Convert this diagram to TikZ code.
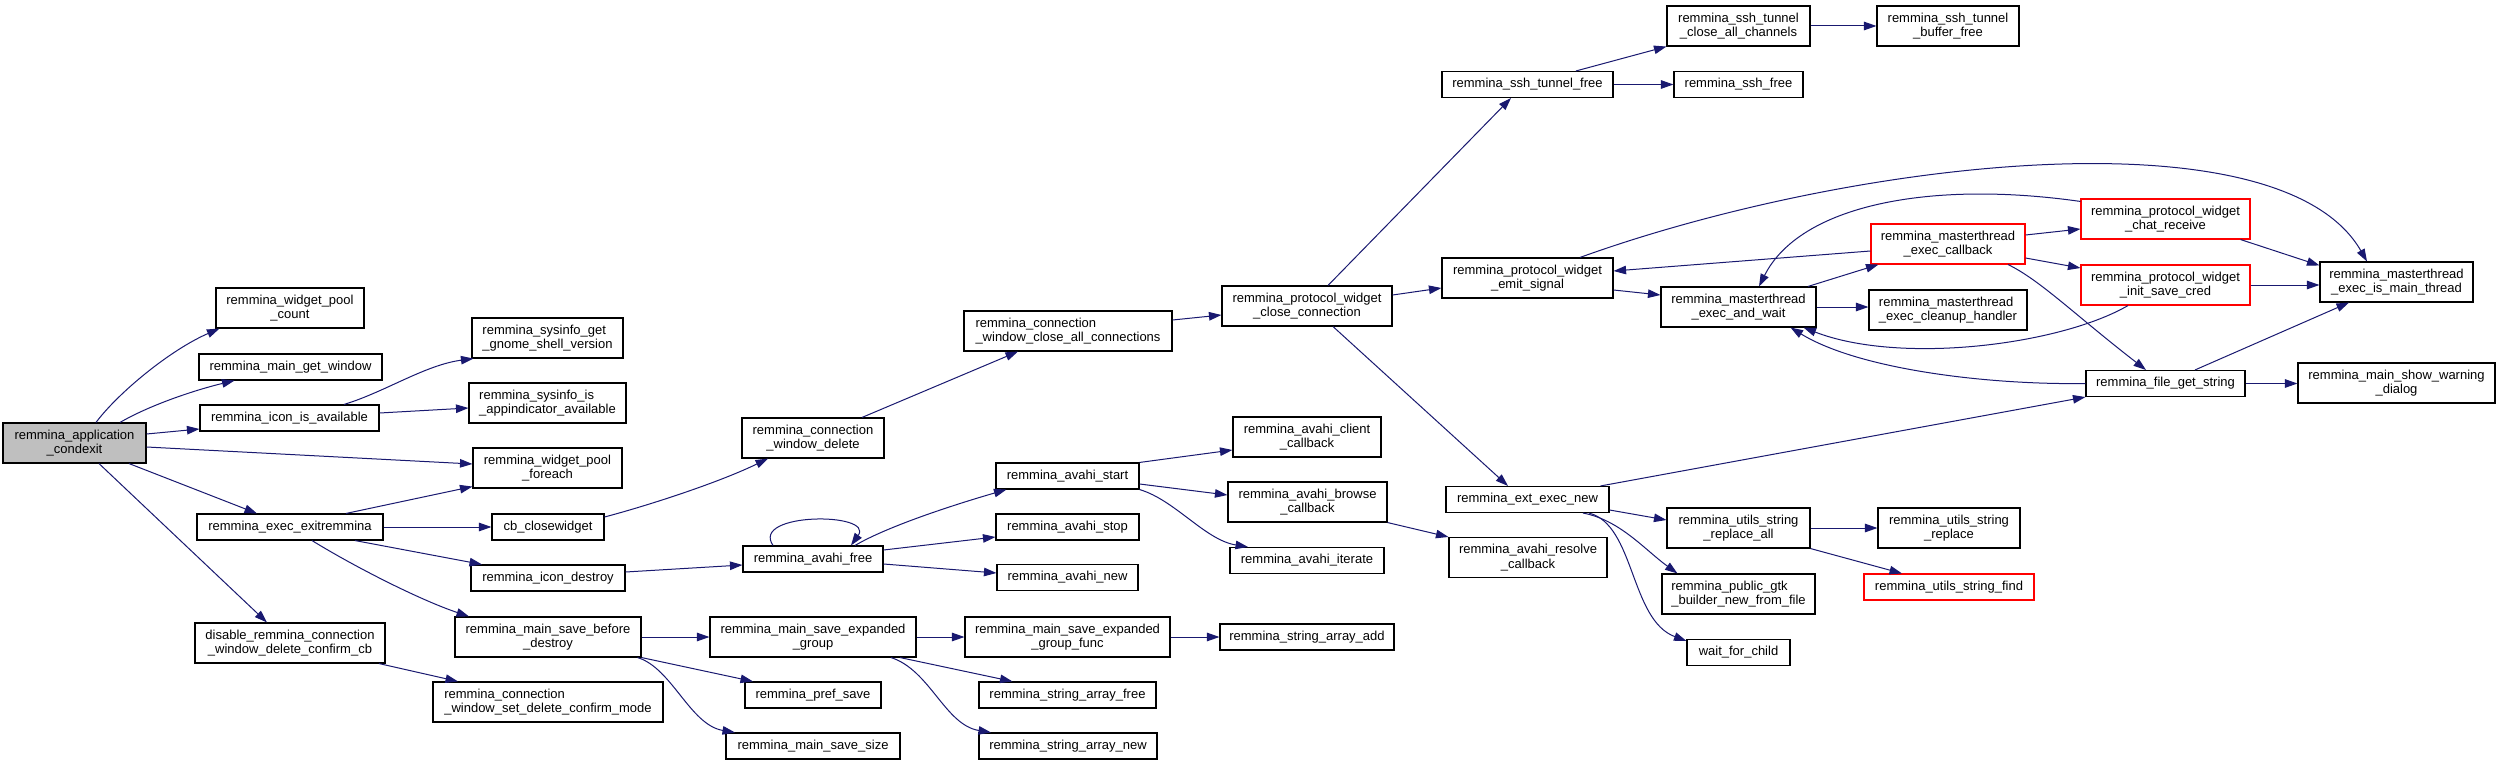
\documentclass[tikz,border=0pt]{standalone}
\usepackage{fontspec}
\setmainfont{Liberation Sans}
\usetikzlibrary{arrows.meta,calc}
\definecolor{edgecol}{HTML}{191970}
\definecolor{rootfill}{HTML}{BFBFBF}
\newcommand{\mybox}[6][box]{\node[#1,minimum width=#4pt,minimum height=#5pt] (#2) at (#3) {#6};}
\begin{document}
\begin{tikzpicture}[x=1pt,y=-1pt,
  box/.style={draw=black,fill=white,line width=1.1pt,inner sep=0pt,align=center,font=\fontsize{13}{14.5}\selectfont},
  leftbox/.style={box,align=left},
  redbox/.style={box,draw=red},
  rootbox/.style={box,fill=rootfill},
  e/.style={draw=edgecol,line width=1pt,-{Triangle[length=12.5pt,width=8.5pt]}}]
\fill[white] (0,0) rectangle (2504,765);
\useasboundingbox (0,0) rectangle (2504,765);
% column 1-2
\mybox[rootbox]{root}{74.5,443}{143}{40}{remmina\_application\\\_condexit}
\mybox{count}{290,308}{148}{40}{remmina\_widget\_pool\\\_count}
\mybox{getwin}{290.5,367}{183}{26}{remmina\_main\_get\_window}
\mybox{iconavail}{289.5,418}{179}{26}{remmina\_icon\_is\_available}
\mybox{exitrem}{290,527}{186}{26}{remmina\_exec\_exitremmina}
\mybox{disable}{290,643}{190}{40}{disable\_remmina\_connection\\\_window\_delete\_confirm\_cb}
% column 3
\mybox[leftbox]{sysget}{547.5,338}{151}{40}{remmina\_sysinfo\_get\\\_gnome\_shell\_version}
\mybox[leftbox]{sysis}{547.5,403}{157}{40}{remmina\_sysinfo\_is\\\_appindicator\_available}
\mybox{foreach}{547.5,468}{149}{40}{remmina\_widget\_pool\\\_foreach}
\mybox{cbclose}{548,527}{112}{26}{cb\_closewidget}
\mybox{icondestroy}{548,578}{154}{26}{remmina\_icon\_destroy}
\mybox{beforedestroy}{548,637}{186}{40}{remmina\_main\_save\_before\\\_destroy}
\mybox[leftbox]{setconfirm}{548,702}{230}{40}{remmina\_connection\\\_window\_set\_delete\_confirm\_mode}
% column 4
\mybox{cwdelete}{813,438}{142}{40}{remmina\_connection\\\_window\_delete}
\mybox{avahifree}{813,559}{140}{26}{remmina\_avahi\_free}
\mybox{expgroup}{813,637}{206}{40}{remmina\_main\_save\_expanded\\\_group}
\mybox{prefsave}{813,695}{136}{26}{remmina\_pref\_save}
\mybox{mainsavesize}{813,746}{174}{26}{remmina\_main\_save\_size}
% column 5
\mybox[leftbox]{closeall}{1068,331}{208}{40}{remmina\_connection\\\_window\_close\_all\_connections}
\mybox{avahistart}{1067.5,476}{143}{26}{remmina\_avahi\_start}
\mybox{avahistop}{1067.5,527}{143}{26}{remmina\_avahi\_stop}
\mybox{avahinew}{1067.5,577.5}{141}{26}{remmina\_avahi\_new}
\mybox{expfunc}{1067.5,637}{205}{40}{remmina\_main\_save\_expanded\\\_group\_func}
\mybox{strfree}{1067.5,695}{177}{26}{remmina\_string\_array\_free}
\mybox{strnew}{1068,746}{178}{26}{remmina\_string\_array\_new}
% column 6
\mybox{closeconn}{1307,306}{170}{40}{remmina\_protocol\_widget\\\_close\_connection}
\mybox{clientcb}{1307,437}{148}{40}{remmina\_avahi\_client\\\_callback}
\mybox{browsecb}{1307.5,502}{159}{40}{remmina\_avahi\_browse\\\_callback}
\mybox{iterate}{1307,560.5}{154}{26}{remmina\_avahi\_iterate}
\mybox{strarradd}{1307,637}{174}{26}{remmina\_string\_array\_add}
% column 7
\mybox{sshtunfree}{1527.5,84.5}{171}{26}{remmina\_ssh\_tunnel\_free}
\mybox{emitsig}{1527.5,278}{171}{40}{remmina\_protocol\_widget\\\_emit\_signal}
\mybox{extexec}{1527.5,499.5}{163}{26}{remmina\_ext\_exec\_new}
\mybox{resolvecb}{1528,557.5}{158}{40}{remmina\_avahi\_resolve\\\_callback}
% column 8
\mybox{closechan}{1738.5,26}{143}{40}{remmina\_ssh\_tunnel\\\_close\_all\_channels}
\mybox{sshfree}{1738.5,84.5}{129}{26}{remmina\_ssh\_free}
\mybox{execwait}{1738.5,307}{155}{40}{remmina\_masterthread\\\_exec\_and\_wait}
\mybox{replaceall}{1738.5,528}{143}{40}{remmina\_utils\_string\\\_replace\_all}
\mybox[leftbox]{gtkbuilder}{1738.5,594}{153}{40}{remmina\_public\_gtk\\\_builder\_new\_from\_file}
\mybox{waitchild}{1738.5,652.5}{103}{26}{wait\_for\_child}
% column 9
\mybox{bufferfree}{1948,26}{142}{40}{remmina\_ssh\_tunnel\\\_buffer\_free}
\mybox[redbox]{execcb}{1948,244}{154}{40}{remmina\_masterthread\\\_exec\_callback}
\mybox[leftbox]{cleanup}{1948,310}{158}{40}{remmina\_masterthread\\\_exec\_cleanup\_handler}
\mybox{strreplace}{1949,528}{142}{40}{remmina\_utils\_string\\\_replace}
\mybox[redbox]{strfind}{1949,587}{170}{26}{remmina\_utils\_string\_find}
% column 10
\mybox[redbox]{chatrecv}{2165.5,219}{169}{40}{remmina\_protocol\_widget\\\_chat\_receive}
\mybox[redbox]{initcred}{2165.5,285}{169}{40}{remmina\_protocol\_widget\\\_init\_save\_cred}
\mybox{filegetstr}{2165.5,383.5}{159}{26}{remmina\_file\_get\_string}
% column 11
\mybox{ismain}{2396.5,282}{153}{40}{remmina\_masterthread\\\_exec\_is\_main\_thread}
\mybox{warning}{2396.5,383}{197}{40}{remmina\_main\_show\_warning\\\_dialog}
% edges
\draw[e] ([xshift=21.5pt]root.north) .. controls (118,393) and (170,350) .. ([xshift=4pt]count.south west);
\draw[e] ([xshift=45.5pt]root.north) .. controls (150,405) and (195,390) .. ([xshift=-56pt]getwin.south);
\draw[e] ([yshift=9pt]root.east) -- ([yshift=-11pt]iconavail.west);
\draw[e] ([yshift=-4pt]root.east) -- ([yshift=4pt]foreach.west);
\draw[e] ([xshift=54.5pt]root.south) -- ([xshift=-33pt]exitrem.north);
\draw[e] ([xshift=24.5pt]root.south) -- ([xshift=-23pt]disable.north);
\draw[e] ([xshift=54.5pt]iconavail.north) .. controls (385,392) and (425,365) .. ([xshift=2pt]sysget.south west);
\draw[e] ([yshift=5pt]iconavail.east) -- ([yshift=-5pt]sysis.west);
\draw[e] ([xshift=56pt]exitrem.north) -- ([yshift=2pt]foreach.south west);
\draw[e] (exitrem.east) -- (cbclose.west);
\draw[e] ([xshift=65pt]exitrem.south) -- ([xshift=-66pt]icondestroy.north);
\draw[e] ([xshift=22pt]exitrem.south) .. controls (355,567) and (420,600) .. ([xshift=-79pt]beforedestroy.north);
\draw[e] ([xshift=89pt]disable.south) -- ([xshift=-90pt]setconfirm.north);
\draw[e] ([yshift=10pt]cbclose.east) .. controls (650,505) and (720,482) .. ([xshift=-45pt]cwdelete.south);
\draw[e] ([yshift=6pt]icondestroy.east) -- ([yshift=-6pt]avahifree.west);
\draw[e] (beforedestroy.east) -- (expgroup.west);
\draw[e] (beforedestroy.south east) -- ([xshift=-60pt]prefsave.north);
\draw[e] ([xshift=-4pt]beforedestroy.south east) .. controls (672,668) and (690,725) .. ([xshift=-78pt]mainsavesize.north);
\draw[e] ([xshift=49pt]cwdelete.north) -- ([xshift=-50pt]closeall.south);
\draw[e] ([xshift=-40pt]avahifree.north) .. controls (750,512) and (875,512) .. ([xshift=38pt]avahifree.north);
\draw[e] ([xshift=42pt]avahifree.north) .. controls (890,525) and (960,503) .. ([xshift=11pt]avahistart.south west);
\draw[e] ([yshift=9pt]avahifree.east) -- ([yshift=-10pt]avahistop.west);
\draw[e] ([yshift=-5pt]avahifree.east) -- ([yshift=4.5pt]avahinew.west);
\draw[e] (expgroup.east) -- (expfunc.west);
\draw[e] ([xshift=87pt]expgroup.south) -- ([xshift=-55pt]strfree.north);
\draw[e] ([xshift=78pt]expgroup.south) .. controls (930,670) and (945,725) .. ([xshift=-77pt]strnew.north);
\draw[e] ([yshift=11pt]closeall.east) -- ([yshift=-9pt]closeconn.west);
\draw[e] (avahistart.north east) -- ([yshift=-13pt]clientcb.west);
\draw[e] ([yshift=-8pt]avahistart.east) -- ([yshift=7pt]browsecb.west);
\draw[e] (avahistart.south east) .. controls (1175,500) and (1205,540) .. ([xshift=-59pt]iterate.north);
\draw[e] (expfunc.east) -- (strarradd.west);
\draw[e] ([xshift=21pt]closeconn.north) -- ([xshift=-16.5pt]sshtunfree.south);
\draw[e] ([yshift=11pt]closeconn.east) -- ([yshift=-10pt]emitsig.west);
\draw[e] ([xshift=26pt]closeconn.south) -- ([xshift=-19.5pt]extexec.north);
\draw[e] (browsecb.south east) -- (resolvecb.north west);
\draw[e] ([xshift=48.5pt]sshtunfree.north) -- (closechan.south west);
\draw[e] (sshtunfree.east) -- (sshfree.west);
\draw[e] (closechan.east) -- (bufferfree.west);
\draw[e] ([yshift=-12pt]emitsig.east) -- ([yshift=12pt]execwait.west);
\draw[e] ([xshift=52.5pt]emitsig.north) .. controls (1850,160) and (2280,110) .. ([xshift=-29.5pt]ismain.north);
\draw[e] ([yshift=-7pt]execcb.west) -- ([yshift=7pt]emitsig.east);
\draw[e] ([xshift=69.5pt]execwait.north) -- ([xshift=8pt]execcb.south west);
\draw[e] (execwait.east) -- (execwait.east -| cleanup.west);
\draw[e] ([yshift=-3pt]chatrecv.north west) .. controls (1930,180) and (1800,205) .. ([xshift=20.5pt]execwait.north);
\draw[e] ([xshift=-37.5pt]initcred.south) .. controls (2060,345) and (1900,365) .. ([xshift=-13pt]execwait.south east);
\draw[e] (filegetstr.west) .. controls (1990,385) and (1860,370) .. ([xshift=-26pt]execwait.south east);
\draw[e] ([yshift=9pt]execcb.east) -- ([yshift=-10pt]chatrecv.west);
\draw[e] ([yshift=-14pt]execcb.east) -- ([yshift=17pt]initcred.west);
\draw[e] ([xshift=60pt]execcb.south) .. controls (2040,280) and (2075,315) .. ([xshift=-19.5pt]filegetstr.north);
\draw[e] ([xshift=-10pt]chatrecv.south east) -- ([yshift=-4pt]ismain.north west);
\draw[e] (initcred.east) -- (initcred.east -| ismain.west);
\draw[e] ([xshift=29.5pt]filegetstr.north) -- ([xshift=-47.5pt]ismain.south);
\draw[e] (filegetstr.east) -- (filegetstr.east -| warning.west);
\draw[e] ([xshift=-9pt]extexec.north east) -- (filegetstr.south west);
\draw[e] ([yshift=-10.5pt]extexec.east) -- ([yshift=8pt]replaceall.west);
\draw[e] ([xshift=55.5pt]extexec.south) .. controls (1620,520) and (1645,550) .. ([xshift=16pt]gtkbuilder.north west);
\draw[e] ([xshift=61.5pt]extexec.south) .. controls (1635,525) and (1630,620) .. ([yshift=-2pt]waitchild.north west);
\draw[e] (replaceall.east) -- (strreplace.west);
\draw[e] (replaceall.south east) -- ([xshift=-47pt]strfind.north);
\end{tikzpicture}
\end{document}
